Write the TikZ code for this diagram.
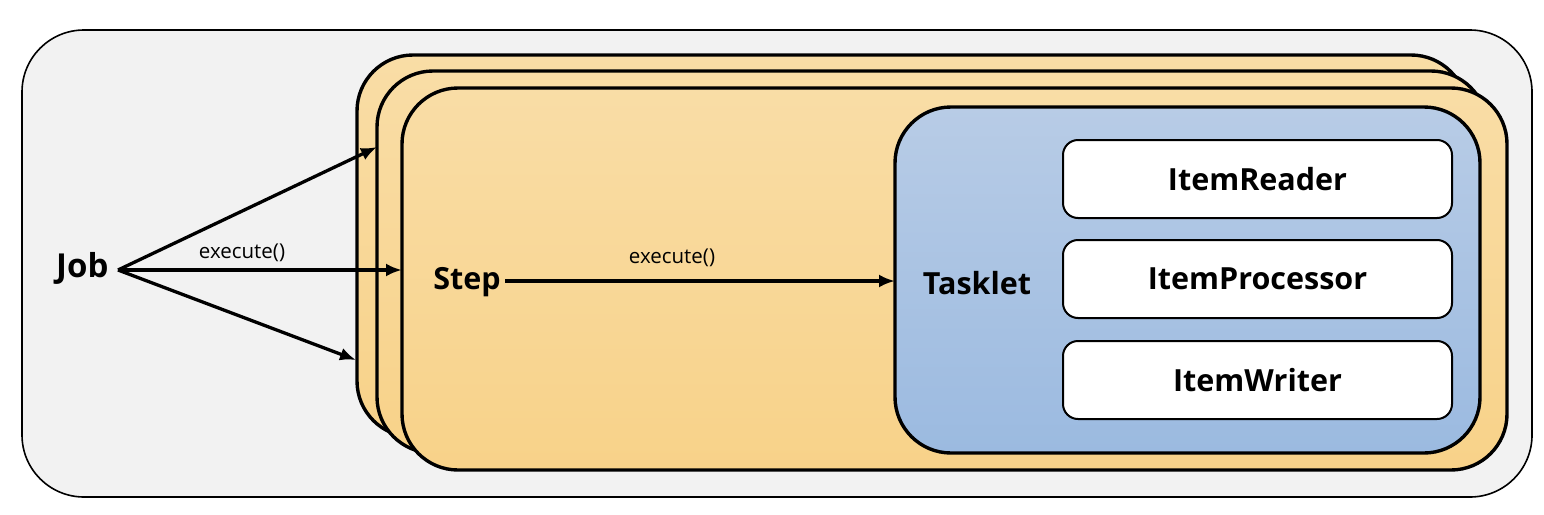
\documentclass[tikz,border=0pt]{standalone}
\usepackage{fontspec}
\setmainfont{Open Sans}
\usetikzlibrary{arrows.meta}
\begin{document}
\begin{tikzpicture}[x=1pt,y=-1pt,
  outerbox/.style={draw=black,line width=1.6pt,fill=black!5,rounded corners=62pt,inner sep=0pt},
  stepbox/.style={draw=black,line width=3.4pt,top color=stepTop,bottom color=stepBot,rounded corners=56pt,inner sep=0pt},
  taskbox/.style={draw=black,line width=3.4pt,top color=taskTop,bottom color=taskBot,rounded corners=56pt,inner sep=0pt},
  itembox/.style={draw=black,line width=2pt,fill=white,rounded corners=15pt,inner sep=0pt,minimum width=389pt,minimum height=78pt,font=\fontsize{30.5}{36}\selectfont\bfseries},
  lbl/.style={font=\fontsize{30.5}{36}\selectfont\bfseries,inner sep=0pt},
  small/.style={font=\fontsize{20.5}{24}\selectfont,inner sep=0pt},
  arr/.style={line width=3.3pt,-{Latex[length=16pt,width=13pt]}}
]
\definecolor{stepTop}{HTML}{F9DDA6}
\definecolor{stepBot}{HTML}{F8D289}
\definecolor{taskTop}{HTML}{B8CCE6}
\definecolor{taskBot}{HTML}{9BBAE0}
\useasboundingbox (0,0) rectangle (1544,514);
\node[outerbox,minimum width=1510pt,minimum height=467pt] (outer) at (777,263.5) {};
\node[stepbox,minimum width=1110pt,minimum height=382pt] (s1) at (912,246) {};
\node[stepbox,minimum width=1110pt,minimum height=382pt] (s2) at (932,262) {};
\node[stepbox,minimum width=1105pt,minimum height=382pt] (s3) at (954.5,279) {};
\node[taskbox,minimum width=585pt,minimum height=346pt] (task) at (1187.5,280) {};
\node[itembox] (reader) at (1257.5,179) {ItemReader};
\node[itembox] (proc) at (1257.5,279) {ItemProcessor};
\node[itembox] (writer) at (1257.5,380) {ItemWriter};
\node[lbl,anchor=west,font=\fontsize{33}{38}\selectfont\bfseries] (job) at (56,268) {Job};
\node[lbl] (step) at (467,282) {Step};
\node[lbl] (tasklet) at (977,283) {Tasklet};
\coordinate (jobout) at (118,270);
\coordinate (t1) at (377,147);
\coordinate (t2) at (402,270);
\coordinate (t3) at (356,360);
\coordinate (stepout) at (505,281);
\coordinate (taskin) at (895,281);
\draw[arr] (jobout) -- (t1);
\draw[arr] (jobout) -- (t2);
\draw[arr] (jobout) -- (t3);
\draw[arr] (stepout) -- (taskin);
\node[small] (ex1) at (242,253) {execute()};
\node[small] (ex2) at (672,258) {execute()};
\end{tikzpicture}
\end{document}
